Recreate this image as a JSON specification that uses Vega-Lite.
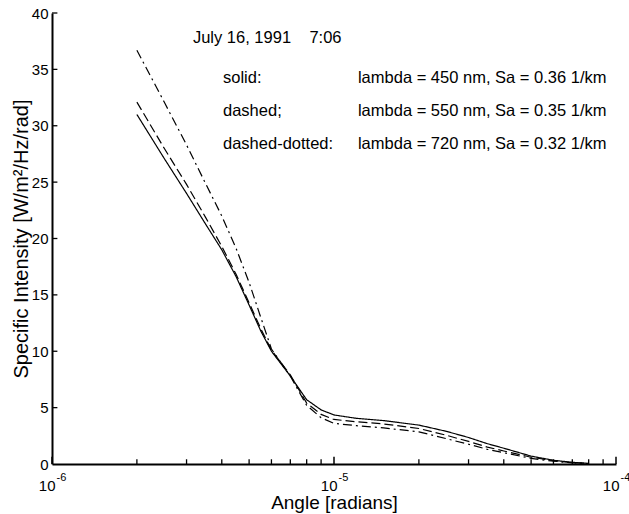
{
  "$schema": "https://vega.github.io/schema/vega-lite/v6.json",
  "width": 564,
  "height": 451,
  "autosize": {"type": "none"},
  "padding": {"left": 52, "top": 13, "right": 13, "bottom": 50},
  "background": "white",
  "config": {
    "view": {"stroke": null},
    "font": "Liberation Sans",
    "axis": {
      "domainColor": "black",
      "domainWidth": 2,
      "ticks": false,
      "grid": false,
      "labelColor": "black",
      "titleColor": "black",
      "labelFont": "Liberation Sans",
      "titleFont": "Liberation Sans",
      "titleFontWeight": "normal",
      "labelFontSize": 15,
      "titleFontSize": 19
    }
  },
  "datasets": {
    "curves": [
      {"angle": 2e-6, "intensity": 31.0, "style": "solid"},
      {"angle": 2.5e-6, "intensity": 27.1, "style": "solid"},
      {"angle": 3e-6, "intensity": 24.0, "style": "solid"},
      {"angle": 3.5e-6, "intensity": 21.3, "style": "solid"},
      {"angle": 4e-6, "intensity": 19.0, "style": "solid"},
      {"angle": 4.5e-6, "intensity": 16.6, "style": "solid"},
      {"angle": 5e-6, "intensity": 14.1, "style": "solid"},
      {"angle": 5.5e-6, "intensity": 11.8, "style": "solid"},
      {"angle": 6e-6, "intensity": 10.0, "style": "solid"},
      {"angle": 7e-6, "intensity": 7.8, "style": "solid"},
      {"angle": 8e-6, "intensity": 5.7, "style": "solid"},
      {"angle": 9e-6, "intensity": 4.8, "style": "solid"},
      {"angle": 1e-5, "intensity": 4.35, "style": "solid"},
      {"angle": 1.2e-5, "intensity": 4.05, "style": "solid"},
      {"angle": 1.5e-5, "intensity": 3.85, "style": "solid"},
      {"angle": 2e-5, "intensity": 3.45, "style": "solid"},
      {"angle": 2.5e-5, "intensity": 2.9, "style": "solid"},
      {"angle": 3e-5, "intensity": 2.35, "style": "solid"},
      {"angle": 3.5e-5, "intensity": 1.8, "style": "solid"},
      {"angle": 4e-5, "intensity": 1.4, "style": "solid"},
      {"angle": 5e-5, "intensity": 0.7, "style": "solid"},
      {"angle": 6e-5, "intensity": 0.33, "style": "solid"},
      {"angle": 7e-5, "intensity": 0.15, "style": "solid"},
      {"angle": 8e-5, "intensity": 0.05, "style": "solid"},

      {"angle": 2e-6, "intensity": 32.1, "style": "dashed"},
      {"angle": 2.5e-6, "intensity": 28.0, "style": "dashed"},
      {"angle": 3e-6, "intensity": 24.8, "style": "dashed"},
      {"angle": 3.5e-6, "intensity": 21.9, "style": "dashed"},
      {"angle": 4e-6, "intensity": 19.3, "style": "dashed"},
      {"angle": 4.5e-6, "intensity": 16.8, "style": "dashed"},
      {"angle": 5e-6, "intensity": 14.3, "style": "dashed"},
      {"angle": 5.5e-6, "intensity": 12.0, "style": "dashed"},
      {"angle": 6e-6, "intensity": 10.1, "style": "dashed"},
      {"angle": 7e-6, "intensity": 7.9, "style": "dashed"},
      {"angle": 8e-6, "intensity": 5.4, "style": "dashed"},
      {"angle": 9e-6, "intensity": 4.4, "style": "dashed"},
      {"angle": 1e-5, "intensity": 3.95, "style": "dashed"},
      {"angle": 1.2e-5, "intensity": 3.75, "style": "dashed"},
      {"angle": 1.5e-5, "intensity": 3.55, "style": "dashed"},
      {"angle": 2e-5, "intensity": 3.15, "style": "dashed"},
      {"angle": 2.5e-5, "intensity": 2.55, "style": "dashed"},
      {"angle": 3e-5, "intensity": 2.0, "style": "dashed"},
      {"angle": 3.5e-5, "intensity": 1.5, "style": "dashed"},
      {"angle": 4e-5, "intensity": 1.15, "style": "dashed"},
      {"angle": 5e-5, "intensity": 0.6, "style": "dashed"},
      {"angle": 6e-5, "intensity": 0.3, "style": "dashed"},
      {"angle": 7e-5, "intensity": 0.12, "style": "dashed"},
      {"angle": 8e-5, "intensity": 0.05, "style": "dashed"},

      {"angle": 2e-6, "intensity": 36.7, "style": "dashdot"},
      {"angle": 2.5e-6, "intensity": 32.1, "style": "dashdot"},
      {"angle": 3e-6, "intensity": 28.3, "style": "dashdot"},
      {"angle": 3.5e-6, "intensity": 24.9, "style": "dashdot"},
      {"angle": 4e-6, "intensity": 22.0, "style": "dashdot"},
      {"angle": 4.5e-6, "intensity": 19.1, "style": "dashdot"},
      {"angle": 5e-6, "intensity": 16.1, "style": "dashdot"},
      {"angle": 5.5e-6, "intensity": 13.0, "style": "dashdot"},
      {"angle": 6e-6, "intensity": 10.2, "style": "dashdot"},
      {"angle": 7e-6, "intensity": 7.8, "style": "dashdot"},
      {"angle": 8e-6, "intensity": 5.2, "style": "dashdot"},
      {"angle": 9e-6, "intensity": 4.1, "style": "dashdot"},
      {"angle": 1e-5, "intensity": 3.6, "style": "dashdot"},
      {"angle": 1.2e-5, "intensity": 3.4, "style": "dashdot"},
      {"angle": 1.5e-5, "intensity": 3.2, "style": "dashdot"},
      {"angle": 2e-5, "intensity": 2.85, "style": "dashdot"},
      {"angle": 2.5e-5, "intensity": 2.25, "style": "dashdot"},
      {"angle": 3e-5, "intensity": 1.75, "style": "dashdot"},
      {"angle": 3.5e-5, "intensity": 1.3, "style": "dashdot"},
      {"angle": 4e-5, "intensity": 1.0, "style": "dashdot"},
      {"angle": 5e-5, "intensity": 0.5, "style": "dashdot"},
      {"angle": 6e-5, "intensity": 0.25, "style": "dashdot"},
      {"angle": 7e-5, "intensity": 0.1, "style": "dashdot"},
      {"angle": 8e-5, "intensity": 0.04, "style": "dashdot"}
    ],
    "notes": [
      {"angle": 3.16e-6, "intensity": 37.8, "label": "July 16, 1991\u00a0\u00a0\u00a0\u00a07:06"},
      {"angle": 4.04e-6, "intensity": 34.2, "label": "solid:"},
      {"angle": 4.04e-6, "intensity": 31.3, "label": "dashed;"},
      {"angle": 4.04e-6, "intensity": 28.4, "label": "dashed-dotted:"},
      {"angle": 1.216e-5, "intensity": 34.2, "label": "lambda = 450 nm, Sa = 0.36 1/km"},
      {"angle": 1.216e-5, "intensity": 31.3, "label": "lambda = 550 nm, Sa = 0.35 1/km"},
      {"angle": 1.216e-5, "intensity": 28.4, "label": "lambda = 720 nm, Sa = 0.32 1/km"}
    ],
    "decadeTicks": [
      {"angle": 1e-6, "base": "10", "exponent": "-6"},
      {"angle": 1e-5, "base": "10", "exponent": "-5"},
      {"angle": 1e-4, "base": "10", "exponent": "-4"}
    ],
    "minorTicks": [
      {"angle": 2e-6}, {"angle": 3e-6}, {"angle": 4e-6}, {"angle": 5e-6},
      {"angle": 6e-6}, {"angle": 7e-6}, {"angle": 8e-6}, {"angle": 9e-6},
      {"angle": 2e-5}, {"angle": 3e-5}, {"angle": 4e-5}, {"angle": 5e-5},
      {"angle": 6e-5}, {"angle": 7e-5}, {"angle": 8e-5}, {"angle": 9e-5}
    ],
    "yTicks": [{"intensity": 5}, {"intensity": 10}, {"intensity": 15}, {"intensity": 20}, {"intensity": 25}, {"intensity": 30}, {"intensity": 35}, {"intensity": 40}]
  },
  "layer": [
    {
      "data": {"name": "curves"},
      "mark": {"type": "line", "color": "black", "strokeWidth": 1.2, "clip": true},
      "encoding": {
        "x": {
          "field": "angle",
          "type": "quantitative",
          "scale": {"type": "log", "domain": [1e-6, 1e-4], "nice": false},
          "axis": {
            "title": "Angle [radians]",
            "values": [1e-6, 1e-5, 1e-4],
            "labels": false,
            "titlePadding": 29
          }
        },
        "y": {
          "field": "intensity",
          "type": "quantitative",
          "scale": {"domain": [0, 40], "nice": false},
          "axis": {
            "title": "Specific Intensity [W/m²/Hz/rad]",
            "titleFontSize": 20,
            "values": [0, 5, 10, 15, 20, 25, 30, 35, 40],
            "labelPadding": 4,
            "titlePadding": 0,
            "labelFlush": false
          }
        },
        "detail": {"field": "style"},
        "strokeDash": {
          "field": "style",
          "type": "nominal",
          "scale": {"domain": ["solid", "dashed", "dashdot"], "range": [[1, 0], [9, 4], [9, 4, 2, 4]]},
          "legend": null
        }
      }
    },
    {
      "data": {"name": "decadeTicks"},
      "mark": {"type": "rule", "color": "black", "strokeWidth": 1.5},
      "encoding": {
        "x": {"field": "angle", "type": "quantitative"},
        "y": {"datum": 0},
        "y2": {"datum": 0.65}
      }
    },
    {
      "data": {"name": "minorTicks"},
      "mark": {"type": "rule", "color": "black", "strokeWidth": 1.3},
      "encoding": {
        "x": {"field": "angle", "type": "quantitative"},
        "y": {"datum": 0},
        "y2": {"datum": 0.42}
      }
    },
    {
      "data": {"name": "yTicks"},
      "mark": {"type": "rule", "color": "black", "strokeWidth": 1.3},
      "encoding": {
        "x": {"datum": 1e-6},
        "x2": {"datum": 1.045e-6},
        "y": {"field": "intensity", "type": "quantitative"}
      }
    },
    {
      "data": {"name": "decadeTicks"},
      "mark": {"type": "text", "align": "right", "baseline": "top", "fontSize": 15, "font": "Liberation Sans", "color": "black", "dx": 3.5, "dy": 15, "clip": false},
      "encoding": {
        "x": {"field": "angle", "type": "quantitative"},
        "y": {"datum": 0},
        "text": {"field": "base"}
      }
    },
    {
      "data": {"name": "decadeTicks"},
      "mark": {"type": "text", "align": "left", "baseline": "top", "fontSize": 11, "font": "Liberation Sans", "color": "black", "dx": 4.5, "dy": 8, "clip": false},
      "encoding": {
        "x": {"field": "angle", "type": "quantitative"},
        "y": {"datum": 0},
        "text": {"field": "exponent"}
      }
    },
    {
      "data": {"name": "notes"},
      "mark": {"type": "text", "align": "left", "baseline": "middle", "fontSize": 16.5, "font": "Liberation Sans", "color": "black"},
      "encoding": {
        "x": {"field": "angle", "type": "quantitative"},
        "y": {"field": "intensity", "type": "quantitative"},
        "text": {"field": "label"}
      }
    }
  ]
}
